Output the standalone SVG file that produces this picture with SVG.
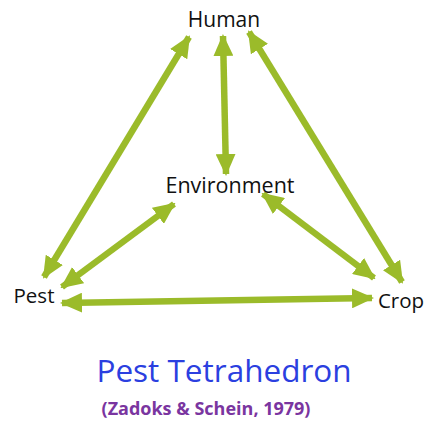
<svg xmlns="http://www.w3.org/2000/svg" width="426" height="421" viewBox="0 0 426 421">
<defs>
<marker id="ah" markerUnits="userSpaceOnUse" markerWidth="22" markerHeight="20" refX="20" refY="10" orient="auto-start-reverse" viewBox="0 0 22 20">
<path d="M0,0 L22,10 L0,20 Z" fill="#9BBB2A"/>
</marker>
<style>
.c{stroke:#9BBB2A;stroke-width:6.5;fill:none;marker-start:url(#ah);marker-end:url(#ah)}
.t{font-family:"Open Sans","Liberation Sans",sans-serif;fill:#111}
</style>
</defs>
<rect width="426" height="421" fill="#fff"/>
<g id="connectors">
<line class="c" x1="189" y1="37" x2="44" y2="277"/>
<line class="c" x1="223" y1="36" x2="226" y2="174"/>
<line class="c" x1="249" y1="32" x2="402" y2="282"/>
<line class="c" x1="174" y1="204" x2="62" y2="287"/>
<line class="c" x1="263" y1="194" x2="374" y2="278"/>
<line class="c" x1="62" y1="303" x2="372" y2="298"/>
</g>
<g id="human"><text class="t" x="224" y="27" font-size="21" text-anchor="middle">Human</text></g>
<g id="environment"><text class="t" x="230" y="193" font-size="21.5" text-anchor="middle">Environment</text></g>
<g id="pest"><text class="t" x="34" y="303" font-size="20.5" text-anchor="middle">Pest</text></g>
<g id="crop"><text class="t" x="401" y="308" font-size="20.5" text-anchor="middle">Crop</text></g>
<g id="title">
<text x="224" y="382" font-size="31.5" text-anchor="middle" font-family="'Open Sans','Liberation Sans',sans-serif" fill="#2B3FE0">Pest Tetrahedron</text>
<text x="206" y="415" font-size="18" font-weight="bold" text-anchor="middle" font-family="'Open Sans','Liberation Sans',sans-serif" fill="#7A35A0">(Zadoks &amp; Schein, 1979)</text>
</g>
</svg>
